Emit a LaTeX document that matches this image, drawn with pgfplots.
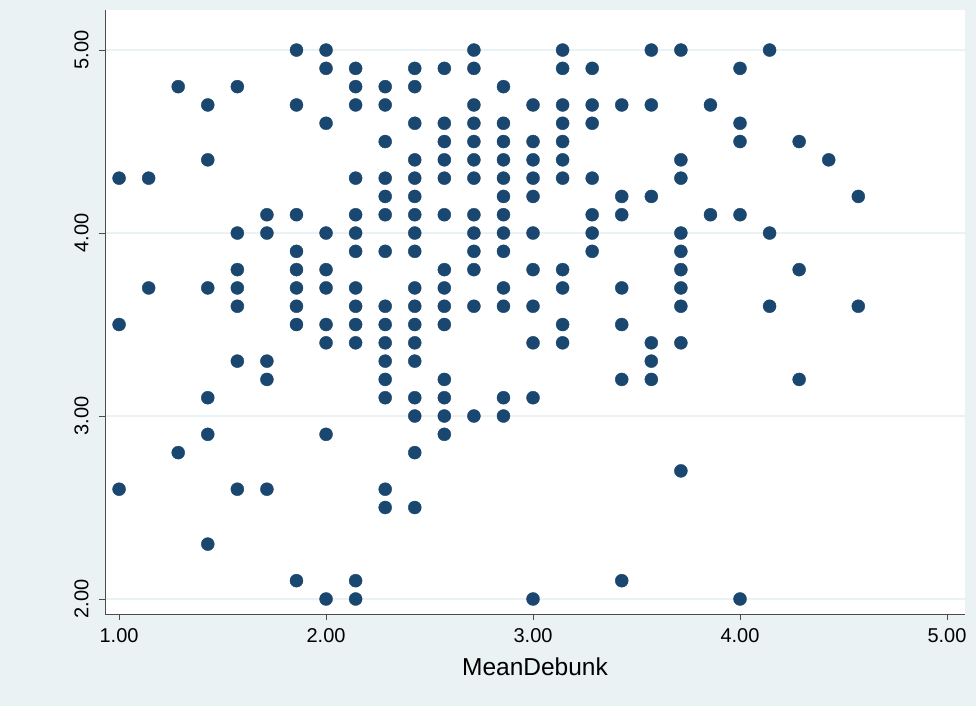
\documentclass[border=0pt]{standalone}
\usepackage{pgfplots}
\usepackage{pgfplotstable}
\pgfplotsset{compat=1.18}
\usepackage{fontspec}
\setmainfont{Liberation Sans}
\definecolor{bgc}{HTML}{EAF2F3}
\definecolor{mk}{HTML}{1A476F}
\pgfplotstableread{
x y
1.000000 4.3
1.000000 3.5
1.000000 2.6
1.142857 4.3
1.142857 3.7
1.285714 4.8
1.285714 2.8
1.428571 4.7
1.428571 4.4
1.428571 3.7
1.428571 3.1
1.428571 2.9
1.428571 2.3
1.571429 4.8
1.571429 4.0
1.571429 3.8
1.571429 3.7
1.571429 3.6
1.571429 3.3
1.571429 2.6
1.714286 4.1
1.714286 4.0
1.714286 3.3
1.714286 3.2
1.714286 2.6
1.857143 5.0
1.857143 4.7
1.857143 4.1
1.857143 3.9
1.857143 3.8
1.857143 3.7
1.857143 3.6
1.857143 3.5
1.857143 2.1
2.000000 5.0
2.000000 4.9
2.000000 4.6
2.000000 4.0
2.000000 3.8
2.000000 3.7
2.000000 3.5
2.000000 3.4
2.000000 2.9
2.000000 2.0
2.142857 4.9
2.142857 4.8
2.142857 4.7
2.142857 4.3
2.142857 4.1
2.142857 4.0
2.142857 3.9
2.142857 3.7
2.142857 3.6
2.142857 3.5
2.142857 3.4
2.142857 2.1
2.142857 2.0
2.285714 4.8
2.285714 4.7
2.285714 4.5
2.285714 4.3
2.285714 4.2
2.285714 4.1
2.285714 3.9
2.285714 3.6
2.285714 3.5
2.285714 3.4
2.285714 3.3
2.285714 3.2
2.285714 3.1
2.285714 2.6
2.285714 2.5
2.428571 4.9
2.428571 4.8
2.428571 4.6
2.428571 4.4
2.428571 4.3
2.428571 4.2
2.428571 4.1
2.428571 4.0
2.428571 3.9
2.428571 3.7
2.428571 3.6
2.428571 3.5
2.428571 3.4
2.428571 3.3
2.428571 3.1
2.428571 3.0
2.428571 2.8
2.428571 2.5
2.571429 4.9
2.571429 4.6
2.571429 4.5
2.571429 4.4
2.571429 4.3
2.571429 4.1
2.571429 3.8
2.571429 3.7
2.571429 3.6
2.571429 3.5
2.571429 3.2
2.571429 3.1
2.571429 3.0
2.571429 2.9
2.714286 5.0
2.714286 4.9
2.714286 4.7
2.714286 4.6
2.714286 4.5
2.714286 4.4
2.714286 4.3
2.714286 4.1
2.714286 4.0
2.714286 3.9
2.714286 3.8
2.714286 3.6
2.714286 3.0
2.857143 4.8
2.857143 4.6
2.857143 4.5
2.857143 4.4
2.857143 4.3
2.857143 4.2
2.857143 4.1
2.857143 4.0
2.857143 3.9
2.857143 3.7
2.857143 3.6
2.857143 3.1
2.857143 3.0
3.000000 4.7
3.000000 4.5
3.000000 4.4
3.000000 4.3
3.000000 4.2
3.000000 4.0
3.000000 3.8
3.000000 3.6
3.000000 3.4
3.000000 3.1
3.000000 2.0
3.142857 5.0
3.142857 4.9
3.142857 4.7
3.142857 4.6
3.142857 4.5
3.142857 4.4
3.142857 4.3
3.142857 3.8
3.142857 3.7
3.142857 3.5
3.142857 3.4
3.285714 4.9
3.285714 4.7
3.285714 4.6
3.285714 4.3
3.285714 4.1
3.285714 4.0
3.285714 3.9
3.428571 4.7
3.428571 4.2
3.428571 4.1
3.428571 3.7
3.428571 3.5
3.428571 3.2
3.428571 2.1
3.571429 5.0
3.571429 4.7
3.571429 4.2
3.571429 3.4
3.571429 3.3
3.571429 3.2
3.714286 5.0
3.714286 4.4
3.714286 4.3
3.714286 4.0
3.714286 3.9
3.714286 3.8
3.714286 3.7
3.714286 3.6
3.714286 3.4
3.714286 2.7
3.857143 4.7
3.857143 4.1
4.000000 4.9
4.000000 4.6
4.000000 4.5
4.000000 4.1
4.000000 2.0
4.142857 5.0
4.142857 4.0
4.142857 3.6
4.285714 4.5
4.285714 3.8
4.285714 3.2
4.428571 4.4
4.571429 4.2
4.571429 3.6
}\datatable
\begin{document}
\begin{tikzpicture}
\fill[bgc] (-105pt,-92pt) rectangle (871pt,614pt);
\begin{axis}[
  at={(0pt,0pt)}, anchor=south west,
  scale only axis, width=860pt, height=604pt,
  xmin=0.932, xmax=5.087, ymin=1.918, ymax=5.219,
  axis x line*=bottom, axis y line*=left,
  axis line style={-, draw=black!70, line width=0.8pt},
  axis background/.style={fill=white},
  xtick={1,2,3,4,5}, ytick={2,3,4,5},
  xticklabels={1.00,2.00,3.00,4.00,5.00},
  yticklabels={2.00,3.00,4.00,5.00},
  ymajorgrids, xmajorgrids=false,
  grid style={draw=bgc, line width=1.2pt},
  tick align=outside, major tick length=6pt,
  tick style={draw=black!70, line width=0.8pt},
  ticklabel style={font=\fontsize{20}{22}\selectfont},
  xticklabel shift=5pt,
  yticklabel shift=7pt,
  yticklabel style={rotate=90, anchor=south},
  xlabel={MeanDebunk},
  xlabel style={font=\fontsize{24.5}{27}\selectfont, yshift=-8pt},
  clip=false,
]
\addplot[only marks, mark=*, mark size=6.5pt, mark options={fill=mk, draw=mk}] table[x=x,y=y] {\datatable};
\end{axis}
\end{tikzpicture}
\end{document}
